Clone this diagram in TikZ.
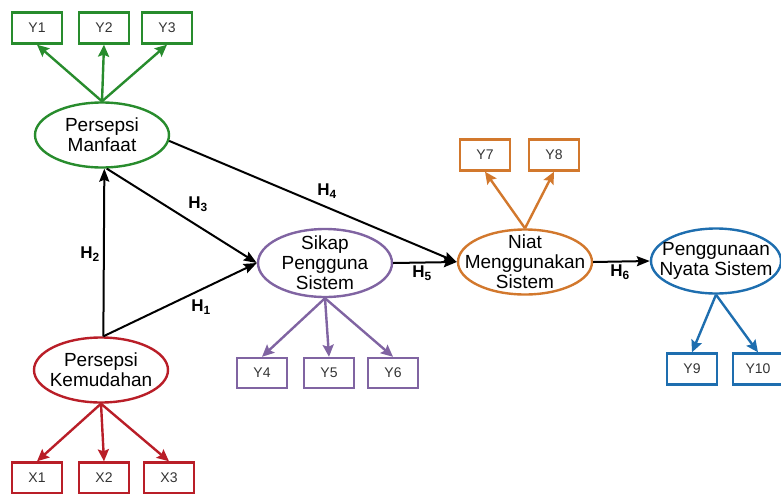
\documentclass[tikz,border=0pt]{standalone}
\usepackage{fontspec}
\setmainfont{Liberation Sans}
\usepackage{xcolor}
\usetikzlibrary{shapes.geometric,arrows.meta}
\definecolor{pmgreen}{RGB}{40,140,45}
\definecolor{pkred}{RGB}{185,30,40}
\definecolor{spviolet}{RGB}{128,100,162}
\definecolor{nmorange}{RGB}{210,120,45}
\definecolor{pnblue}{RGB}{30,110,175}

\begin{document}
\begin{tikzpicture}[x=1pt,y=-1pt,
  latent/.style={ellipse,draw,line width=2.4pt,minimum width=134pt,minimum height=65pt,
    inner xsep=-30pt,inner ysep=-15pt,align=center,font=\fontsize{19}{20}\selectfont},
  indic/.style={rectangle,draw,line width=2.4pt,minimum width=50pt,minimum height=31pt,
    inner sep=0pt,font=\fontsize{14}{16}\selectfont,text=black!80},
  load/.style={line width=2.4pt,-{Stealth[length=12pt,width=11pt,inset=2pt]}},
  hyp/.style={line width=2pt,-{Stealth[length=13pt,width=10pt,inset=2pt]}},
  hlab/.style={font=\fontsize{17}{19}\selectfont\bfseries}]
\useasboundingbox (0,0) rectangle (781,493);

% latent constructs
\node[latent,draw=pmgreen] (pm) at (102,135) {Persepsi\\Manfaat};
\node[latent,draw=pkred] (pk) at (101,370) {Persepsi\\Kemudahan};
\node[latent,draw=spviolet,minimum height=68pt] (sp) at (325,263) {Sikap\\Pengguna\\Sistem};
\node[latent,draw=nmorange] (nm) at (525,262) {Niat\\Menggunakan\\Sistem};
\node[latent,draw=pnblue,minimum width=130pt] (pn) at (716,261) {Penggunaan\\Nyata Sistem};

% indicators
\node[indic,draw=pmgreen] (y1) at (37,28) {Y1};
\node[indic,draw=pmgreen] (y2) at (104,28) {Y2};
\node[indic,draw=pmgreen] (y3) at (167,28) {Y3};
\node[indic,draw=pkred] (x1) at (37,478) {X1};
\node[indic,draw=pkred] (x2) at (104,478) {X2};
\node[indic,draw=pkred] (x3) at (169,478) {X3};
\node[indic,draw=spviolet,minimum height=30pt] (y4) at (262,373) {Y4};
\node[indic,draw=spviolet,minimum height=30pt] (y5) at (329,373) {Y5};
\node[indic,draw=spviolet,minimum height=30pt] (y6) at (393,373) {Y6};
\node[indic,draw=nmorange] (y7) at (485,155) {Y7};
\node[indic,draw=nmorange] (y8) at (554,155) {Y8};
\node[indic,draw=pnblue] (y9) at (692,369) {Y9};
\node[indic,draw=pnblue] (y10) at (758,369) {Y10};

% loadings
\draw[load,pmgreen] (pm.north) -- (y1.south);
\draw[load,pmgreen] (pm.north) -- (y2.south);
\draw[load,pmgreen] (pm.north) -- (y3.south);
\draw[load,pkred] (pk.south) -- (x1.north);
\draw[load,pkred] (pk.south) -- (x2.north);
\draw[load,pkred] (pk.south) -- (x3.north);
\draw[load,spviolet] (sp.south) -- (y4.north);
\draw[load,spviolet] (sp.south) -- (y5.north);
\draw[load,spviolet] (sp.south) -- (y6.north);
\draw[load,nmorange] (nm.north) -- (y7.south);
\draw[load,nmorange] (nm.north) -- (y8.south);
\draw[load,pnblue] (pn.south) -- (y9.north);
\draw[load,pnblue] (pn.south) -- (y10.north);

% hypotheses
\draw[hyp] (pk.86) -- (pm.-86);
\draw[hyp] (pk.86) -- (sp.west);
\draw[hyp] (pm.-82) -- (sp.west);
\draw[hyp] (pm.-5) -- (nm.west);
\draw[hyp] (sp.east) -- (nm.west);
\draw[hyp] (nm.east) -- (pn.west);

\node[hlab] (h1) at (201,307) {H\textsubscript{1}};
\node[hlab] (h2) at (90,254) {H\textsubscript{2}};
\node[hlab] (h3) at (198,204) {H\textsubscript{3}};
\node[hlab] (h4) at (327,191) {H\textsubscript{4}};
\node[hlab] (h5) at (422,273) {H\textsubscript{5}};
\node[hlab] (h6) at (620,272) {H\textsubscript{6}};
\end{tikzpicture}
\end{document}
